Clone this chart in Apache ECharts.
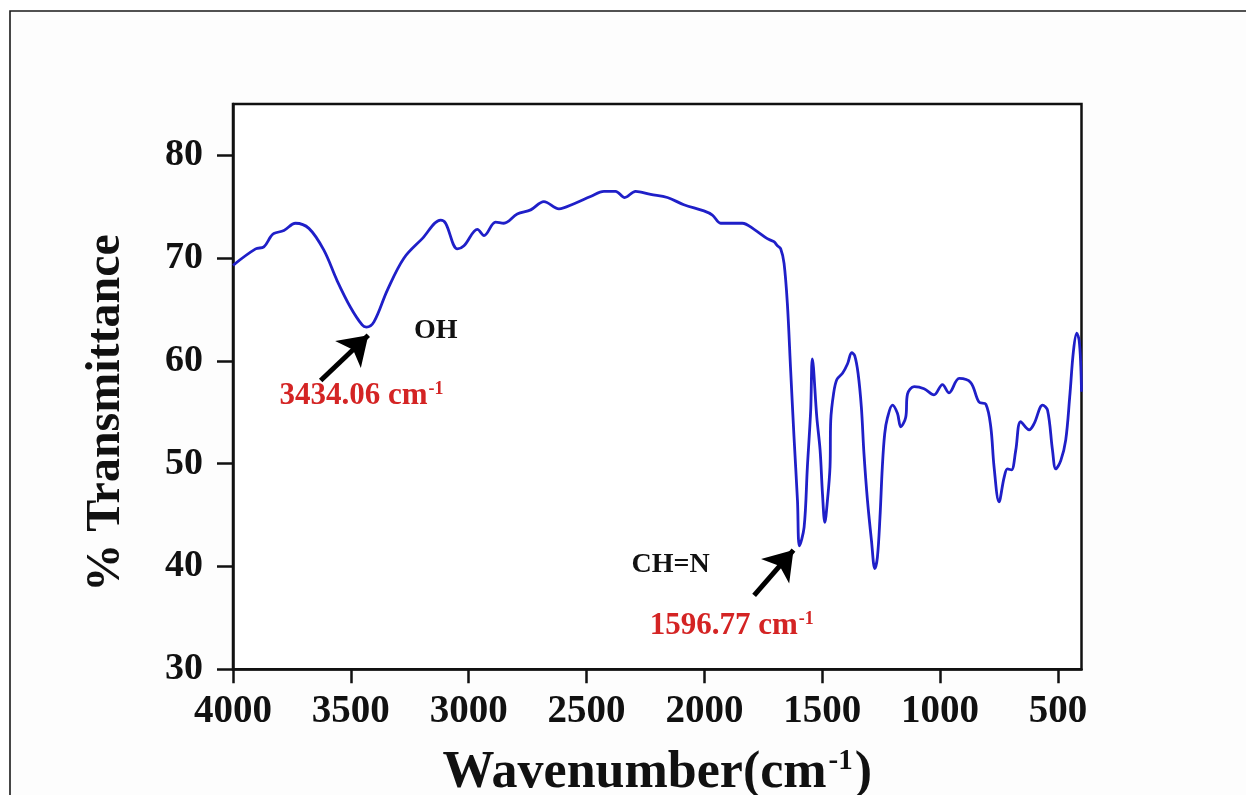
<!DOCTYPE html>
<html>
<head>
<meta charset="utf-8">
<title>FTIR spectrum</title>
<script src="https://cdn.jsdelivr.net/npm/echarts@6/dist/echarts.min.js"></script>
<style>
  html, body { margin: 0; padding: 0; background: #ffffff; }
  #chart { width: 1246px; height: 795px; }
</style>
</head>
<body>
<div id="chart"></div>
<script>
// FTIR spectrum: wavenumber (cm^-1) against % transmittance
const wavenumbers = [
  4000, 3904, 3869, 3840, 3827, 3784, 3735, 3678, 3615, 3558, 3501, 3452, 3434.06, 3402,
  3345, 3275, 3197, 3119, 3098, 3048, 3020, 2963, 2935, 2886, 2851, 2794, 2737, 2681,
  2617, 2553, 2483, 2426, 2377, 2338, 2292, 2228, 2157, 2087, 2002, 1966, 1931, 1896,
  1839, 1789, 1733, 1705, 1690, 1676, 1662, 1648, 1634, 1620, 1605, 1596.77, 1577, 1563,
  1549, 1542, 1523, 1509, 1499, 1489, 1478, 1467, 1464, 1452, 1438, 1414, 1393, 1375,
  1362, 1348, 1334, 1323, 1308, 1291, 1277, 1266, 1255, 1245, 1235, 1223, 1202, 1181,
  1167, 1146, 1138, 1110, 1068, 1026, 990, 962, 919, 870, 835, 806, 785, 771,
  750, 728, 714, 697, 679, 658, 622, 601, 565, 544, 523, 509, 488, 467,
  450, 434, 420, 410, 403, 400
];
const transmittance = [
  69.3, 70.9, 71.1, 72.1, 72.4, 72.7, 73.4, 72.9, 70.8, 67.8, 65.2, 63.5, 63.3, 63.8,
  66.9, 70.0, 71.9, 73.7, 73.4, 70.9, 71.2, 72.8, 72.2, 73.5, 73.4, 74.3, 74.7, 75.5,
  74.8, 75.3, 76.0, 76.5, 76.5, 75.9, 76.5, 76.2, 75.9, 75.2, 74.6, 74.2, 73.4, 73.4,
  73.4, 72.8, 71.9, 71.6, 71.2, 70.9, 69.5, 65.6, 59.1, 52.7, 46.4, 42.0, 43.8, 49.7,
  55.2, 60.2, 54.5, 51.3, 47.1, 44.3, 46.4, 49.7, 54.2, 56.8, 58.2, 58.8, 59.7, 60.8,
  60.5, 58.8, 55.5, 51.0, 46.4, 42.5, 39.8, 40.9, 44.8, 49.7, 52.9, 54.5, 55.7, 54.9,
  53.6, 54.5, 56.8, 57.5, 57.3, 56.7, 57.7, 56.9, 58.3, 57.9, 56.0, 55.8, 53.6, 49.7,
  46.3, 48.7, 49.5, 49.4, 51.3, 54.1, 53.3, 53.9, 55.7, 55.2, 51.3, 49.5, 50.3, 52.3,
  56.5, 61.0, 62.7, 62.0, 59.5, 57.0
];
const xTicks = [4000, 3500, 3000, 2500, 2000, 1500, 1000, 500];
const yTicks = [30, 40, 50, 60, 70, 80];

// band assignments with their peak positions, label anchors and arrows (data units)
const bandNames = ['OH', 'CH=N'];
const bandPeaks = ['3434.06', '1596.77'];
const bandNamePos = [[3140, 62.9], [2143, 40.2]];
const bandPeakPos = [[3455, 56.6], [1884, 34.2]];
const arrowTails = [[3628, 58.1], [1789, 37.2]];
const arrowHeads = [[3426, 62.5], [1622, 41.6]];

const serif = '"Liberation Serif", "Times New Roman", "DejaVu Serif", serif';
const ink = '#111111';
const red = '#d42424';

const pairs = wavenumbers.map((w, i) => [w, transmittance[i]]);

const markPoints = [];
bandNames.forEach((n, i) => {
  markPoints.push({
    coord: bandNamePos[i], symbol: 'circle', symbolSize: 0,
    label: { show: true, position: 'inside', formatter: n, color: ink,
      fontFamily: serif, fontWeight: 'bold', fontSize: 28 }
  });
  markPoints.push({
    coord: bandPeakPos[i], symbol: 'circle', symbolSize: 0,
    label: { show: true, position: 'inside', formatter: '{a|' + bandPeaks[i] + ' cm}{s|-1}',
      rich: {
        a: { color: red, fontFamily: serif, fontWeight: 'bold', fontSize: 31, lineHeight: 34 },
        s: { color: red, fontFamily: serif, fontWeight: 'bold', fontSize: 18, lineHeight: 34, verticalAlign: 'top', padding: [1, 0, 0, 1] }
      } }
  });
});

const arrows = arrowTails.map((t, i) => [
  { coord: t, symbol: 'none' },
  { coord: arrowHeads[i], symbol: 'arrow', symbolSize: 28 }
]);

const chart = echarts.init(document.getElementById('chart'), null, { renderer: 'canvas' });
chart.setOption({
  animation: false,
  backgroundColor: '#ffffff',
  graphic: [{
    type: 'rect', silent: true, z: -1,
    shape: { x: 10, y: 11, width: 1300, height: 900 },
    style: { fill: '#fdfdfd', stroke: '#1a1a1a', lineWidth: 1.6 }
  }, {
    type: 'text', silent: true,
    x: 107, y: 413, rotation: Math.PI / 2,
    style: {
      text: '% Transmittance', align: 'center', verticalAlign: 'middle',
      fontFamily: serif, fontWeight: 'bold', fontSize: 48, fill: ink
    }
  }],
  grid: {
    left: 233, top: 104, right: 164.5, bottom: 125.7,
    outerBoundsMode: 'none', containLabel: false,
    show: true, borderColor: '#111', borderWidth: 2.5, backgroundColor: '#ffffff'
  },
  xAxis: {
    type: 'value', inverse: true, min: 400, max: 4000,
    name: '{a|Wavenumber(cm}{s|-1}{a|)}',
    nameLocation: 'middle', nameGap: 74,
    nameTextStyle: {
      rich: {
        a: { fontFamily: serif, fontWeight: 'bold', fontSize: 52, color: ink, lineHeight: 60 },
        s: { fontFamily: serif, fontWeight: 'bold', fontSize: 29, color: ink, lineHeight: 60, verticalAlign: 'top', padding: [4, 2, 0, 2] }
      }
    },
    axisLine: { show: true, onZero: false, lineStyle: { color: '#111', width: 2.5 } },
    axisTick: { show: true, inside: false, length: 14, customValues: xTicks, lineStyle: { color: '#111', width: 2.5 } },
    axisLabel: { customValues: xTicks, margin: 23, formatter: v => String(v),
      fontFamily: serif, fontWeight: 'bold', fontSize: 39, color: ink },
    splitLine: { show: false }
  },
  yAxis: {
    type: 'value', min: 30, max: 85,
    axisLine: { show: true, onZero: false, lineStyle: { color: '#111', width: 2.5 } },
    axisTick: { show: true, inside: false, length: 16, customValues: yTicks, lineStyle: { color: '#111', width: 2.5 } },
    axisLabel: { customValues: yTicks, margin: 30, formatter: v => String(v),
      fontFamily: serif, fontWeight: 'bold', fontSize: 38, color: ink },
    splitLine: { show: false }
  },
  series: [{
    type: 'line',
    data: pairs,
    showSymbol: false,
    smooth: 0.35,
    lineStyle: { color: '#1f1fc8', width: 2.8 },
    markPoint: { silent: true, data: markPoints },
    markLine: {
      silent: true,
      symbol: ['none', 'arrow'],
      lineStyle: { color: '#000', width: 5, type: 'solid' },
      label: { show: false },
      data: arrows
    }
  }]
});
</script>
</body>
</html>
